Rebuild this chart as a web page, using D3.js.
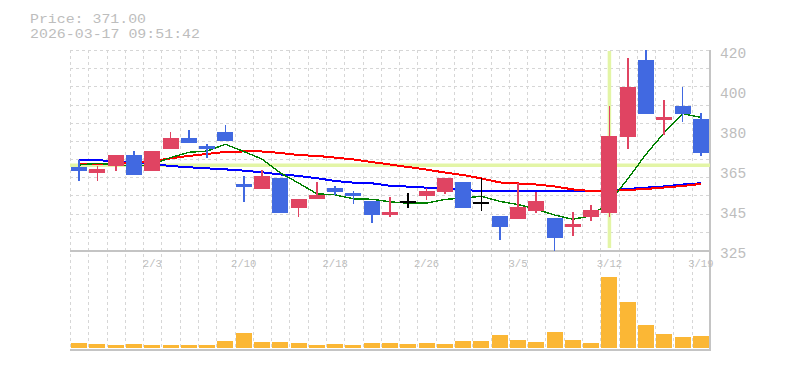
<!DOCTYPE html>
<html>
<head>
<meta charset="utf-8">
<script src="https://cdn.jsdelivr.net/npm/d3@7"></script>
<style>
  html, body { margin: 0; padding: 0; background: #fff; }
  svg { display: block; }
</style>
</head>
<body>
<svg id="chart" width="785" height="370"></svg>
<script>
// ---------- data ----------
const dates = ["1/28","1/29","1/30","2/2","2/3","2/4","2/5","2/6","2/9","2/10",
  "2/12","2/13","2/16","2/17","2/18","2/19","2/20","2/24","2/25","2/26",
  "2/27","3/2","3/3","3/4","3/5","3/6","3/9","3/10","3/11","3/12",
  "3/13","3/16","3/17","3/18","3/19"];
const openP  = [364.4,361.7,365.0,370.1,362.7,373.1,378.2,374.4,381.1,356.4,
  354.1,359.3,345.1,349.1,354.5,352.1,348.4,341.8,347.9,350.8,
  352.7,357.3,347.3,341.3,339.7,343.5,340.1,336.1,340.8,342.7,
  378.8,415.3,386.9,393.4,387.2];
const highP  = [367.7,364.8,370.1,372.0,372.0,381.1,382.0,375.4,384.4,360.2,
  363.0,359.3,349.2,357.3,355.5,353.2,348.4,350.3,351.9,354.6,
  359.3,357.3,359.2,341.3,356.7,352.7,340.1,342.9,346.4,393.4,
  416.2,420.0,396.3,402.4,390.1];
const lowP   = [357.8,357.9,362.7,360.8,362.7,373.1,376.0,368.8,376.9,347.8,
  354.1,342.7,340.8,349.1,351.3,347.0,338.0,340.8,345.1,348.9,
  351.6,345.1,343.7,329.8,339.7,342.4,324.7,331.7,338.8,340.8,
  373.1,389.7,379.8,386.0,369.7];
const closeP = [362.5,363.3,370.1,360.8,372.0,378.2,376.0,373.0,376.9,355.1,
  360.2,342.7,349.2,351.3,352.6,350.8,341.8,343.1,347.9,353.0,
  359.3,345.1,347.3,335.9,345.6,348.3,330.8,337.4,344.0,379.2,
  402.4,389.7,388.2,389.7,371.0];
const volume = [47,37,27,37,27,27,27,27,67,147,
  57,57,47,27,37,27,47,47,37,47,
  37,67,67,127,77,57,157,77,47,707,
  457,227,137,107,117];
const ma5  = [365.4,366.2,365.4,364.7,365.7,368.9,371.4,372.0,375.2,371.8,
  368.2,361.6,356.8,351.7,351.2,349.3,349.1,347.9,347.2,347.3,
  349.0,349.7,350.5,348.1,346.6,344.4,341.6,339.6,341.2,347.9,
  358.7,370.5,380.7,389.8,388.0];
const ma25 = [365.9,365.9,366.1,366.6,367.3,368.5,369.7,370.6,371.6,371.8,
  371.8,371.1,370.1,369.7,368.9,368.0,366.8,365.6,364.4,363.2,
  361.8,360.6,359.0,357.1,356.6,356.1,355.2,353.8,353.0,353.0,
  353.5,354.0,354.7,355.4,356.4];
const ma75 = [367.8,367.8,366.9,366.3,365.9,364.9,364.3,363.8,363.3,362.7,
  361.9,360.9,360.2,359.1,357.8,357.0,356.7,355.5,355.1,354.6,
  354.0,353.5,353.0,353.0,353.0,353.0,353.0,353.0,353.0,353.3,
  354.0,354.6,355.2,356.1,356.7];
const xTickLabels = ["2/3","2/10","2/18","2/26","3/5","3/12","3/19"];
const yTickLabels = [420,400,380,365,345,325];
const priceDomain = [325, 420];
const volumeMax = 980;
const crossPrice = 365.2;
const crossDate = "3/12";
const titlePrice = "Price: 371.00";
const titleTime = "2026-03-17 09:51:42";

// ---------- layout ----------
const L = 70, R = 710, PT = 50, PB = 250, VT = 250, VB = 348;
const svg = d3.select("#chart");
const FONT = "'Liberation Mono','DejaVu Sans Mono',monospace";
const GRID = "#d6d6d6", AXIS = "#c4c4c4", TXT = "#bdbdbd";
const UP = "#e04462", DOWN = "#4169e1", DOJI = "#000000", VOL = "#fbb735";

const x = d3.scaleBand().domain(dates).range([L, R]).paddingInner(0.125).paddingOuter(0.0625);
const step = x.step();
const cx = d => x(d) + x.bandwidth() / 2;
const y = d3.scaleLinear().domain(priceDomain).range([PB, PT]);
const yv = d3.scaleLinear().domain([0, volumeMax]).range([VB, VT]);

// title
svg.append("text").attr("x", 30).attr("y", 22.5).attr("fill", TXT)
  .attr("textLength", 116).attr("lengthAdjust", "spacingAndGlyphs")
  .style("font", `13px ${FONT}`).text(titlePrice);
svg.append("text").attr("x", 30).attr("y", 37.5).attr("fill", TXT)
  .attr("textLength", 170).attr("lengthAdjust", "spacingAndGlyphs")
  .style("font", `13px ${FONT}`).text(titleTime);

// grid
const g = svg.append("g").attr("shape-rendering", "crispEdges");
const hGrid = d3.scaleLinear().domain([0, 11]).range([PT, PB]);
d3.range(0, 11).forEach(k => {
  g.append("line").attr("x1", L).attr("x2", R).attr("y1", Math.round(hGrid(k)) + 0.5).attr("y2", Math.round(hGrid(k)) + 0.5)
    .attr("stroke", GRID).attr("stroke-width", 1).attr("stroke-dasharray", "3,3");
});
d3.range(0, dates.length).forEach(k => {
  const xx = Math.round(L + k * step) + 0.5;
  g.append("line").attr("x1", xx).attr("x2", xx).attr("y1", PT).attr("y2", VB + 2)
    .attr("stroke", GRID).attr("stroke-width", 1).attr("stroke-dasharray", "3,3");
});
// frame lines
g.append("line").attr("x1", L).attr("x2", R + 1).attr("y1", PB + 0.5).attr("y2", PB + 0.5)
  .attr("stroke", AXIS).attr("stroke-width", 2);
g.append("line").attr("x1", L).attr("x2", R + 1).attr("y1", VB + 1.5).attr("y2", VB + 1.5)
  .attr("stroke", AXIS).attr("stroke-width", 2);
g.append("line").attr("x1", R).attr("x2", R).attr("y1", PT).attr("y2", VB + 2)
  .attr("stroke", AXIS).attr("stroke-width", 2);

// crosshair
const CROSS = "#e3f5a6";
svg.append("line").attr("x1", L).attr("x2", R).attr("y1", y(crossPrice)).attr("y2", y(crossPrice))
  .attr("stroke", CROSS).attr("stroke-width", 3.5);
svg.append("line").attr("x1", cx(crossDate)).attr("x2", cx(crossDate)).attr("y1", PT + 1).attr("y2", PB - 2)
  .attr("stroke", CROSS).attr("stroke-width", 3.5);

// moving averages
const line = arr => d3.line().x((d, i) => cx(dates[i])).y(d => y(d))(arr);
const mg = svg.append("g").attr("shape-rendering", "crispEdges");
mg.append("path").attr("d", line(ma75)).attr("fill", "none").attr("stroke", "#0000ff").attr("stroke-width", 2);
mg.append("path").attr("d", line(ma25)).attr("fill", "none").attr("stroke", "#ff0000").attr("stroke-width", 2);
mg.append("path").attr("d", line(ma5)).attr("fill", "none").attr("stroke", "#008000").attr("stroke-width", 1.4);

// candles
const candles = dates.map((d, i) => ({d, o: openP[i], h: highP[i], l: lowP[i], c: closeP[i]}));
const cg = svg.append("g").attr("shape-rendering", "crispEdges");
candles.forEach(k => {
  const col = k.c > k.o ? UP : (k.c < k.o ? DOWN : DOJI);
  const xc = cx(k.d);
  cg.append("line").attr("x1", xc).attr("x2", xc).attr("y1", y(k.h)).attr("y2", y(k.l))
    .attr("stroke", col).attr("stroke-width", 1.6);
  if (k.c === k.o) {
    cg.append("line").attr("x1", x(k.d)).attr("x2", x(k.d) + x.bandwidth())
      .attr("y1", y(k.c)).attr("y2", y(k.c)).attr("stroke", col).attr("stroke-width", 2);
  } else {
    const top = y(Math.max(k.o, k.c)), bot = y(Math.min(k.o, k.c));
    cg.append("rect").attr("x", x(k.d)).attr("width", x.bandwidth())
      .attr("y", top).attr("height", Math.max(2, bot - top)).attr("fill", col);
  }
});

// volume bars
svg.append("g").attr("shape-rendering", "crispEdges").selectAll("rect").data(volume).join("rect")
  .attr("x", (v, i) => x(dates[i])).attr("width", x.bandwidth())
  .attr("y", v => yv(v)).attr("height", v => VB - yv(v)).attr("fill", VOL);

// x labels
svg.append("g").selectAll("text").data(xTickLabels).join("text")
  .attr("x", d => cx(d)).attr("y", 266.5).attr("text-anchor", "middle")
  .attr("fill", TXT).style("font", `10.5px ${FONT}`).text(d => d);

// y labels
const yl = d3.scalePoint().domain(yTickLabels).range([PT, PB]);
svg.append("g").selectAll("text").data(yTickLabels).join("text")
  .attr("x", 720).attr("y", d => yl(d) + 8.3)
  .attr("fill", TXT).style("font", `14.5px ${FONT}`).text(d => d);
</script>
</body>
</html>
